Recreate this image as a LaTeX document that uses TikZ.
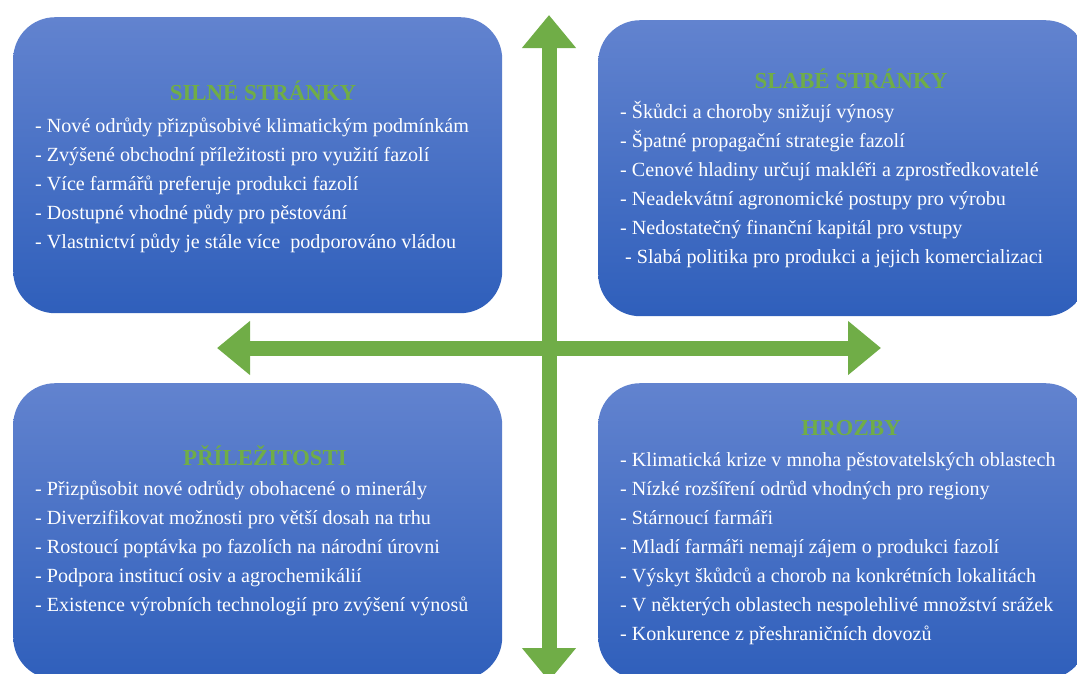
\documentclass[tikz,border=0pt]{standalone}
\usepackage{fontspec}
\setmainfont{Liberation Serif}
\usetikzlibrary{arrows.meta}
\definecolor{boxtop}{RGB}{98,131,207}
\definecolor{boxbot}{RGB}{47,95,187}
\definecolor{agreen}{RGB}{112,173,71}
\tikzset{
  quad/.style={draw=none, rounded corners=42pt, top color=boxtop, bottom color=boxbot,
    minimum width=489pt, minimum height=296pt, inner sep=0pt, anchor=north west},
  ttl/.style={text=agreen, font=\fontsize{22.9}{26}\selectfont\bfseries, anchor=base, inner sep=0pt},
  itm/.style={text=white, font=\fontsize{20.1}{24}\selectfont, anchor=base west, inner sep=0pt},
  dblarrow/.style={draw=agreen, line width=15pt,
    {Triangle[width=52pt,length=33pt]}-{Triangle[width=52pt,length=33pt]}}
}
\begin{document}
\begin{tikzpicture}[x=1pt,y=-1pt]
\useasboundingbox (0,0) rectangle (1077,673);
\clip (0,0) rectangle (1077,673);
% boxes
\node[quad] (S) at (13,17) {};
\node[quad] (W) at (598,20) {};
\node[quad] (O) at (13,383) {};
\node[quad] (T) at (598,383) {};
% arrows
\coordinate (top) at (549,15);
\coordinate (bot) at (549,681);
\coordinate (lft) at (217,348);
\coordinate (rgt) at (881,348);
\draw[dblarrow] (bot) -- (top);
\draw[dblarrow] (lft) -- (rgt);
% Strengths
\node[ttl] (S0) at (263,100) {SILNÉ STRÁNKY};
\node[itm] (S1) at (35,132) {- Nové odrůdy přizpůsobivé klimatickým podmínkám};
\node[itm] (S2) at (35,161) {- Zvýšené obchodní příležitosti pro využití fazolí};
\node[itm] (S3) at (35,190) {- Více farmářů preferuje produkci fazolí};
\node[itm] (S4) at (35,219) {- Dostupné vhodné půdy pro pěstování};
\node[itm] (S5) at (35,248) {- Vlastnictví půdy je stále více~ podporováno vládou};
% Weaknesses
\node[ttl] (W0) at (851,88) {SLABÉ STRÁNKY};
\node[itm] (W1) at (620,118) {- Škůdci a choroby snižují výnosy};
\node[itm] (W2) at (620,147) {- Špatné propagační strategie fazolí};
\node[itm] (W3) at (620,176) {- Cenové hladiny určují makléři a zprostředkovatelé};
\node[itm] (W4) at (620,205) {- Neadekvátní agronomické postupy pro výrobu};
\node[itm] (W5) at (620,234) {- Nedostatečný finanční kapitál pro vstupy};
\node[itm] (W6) at (625,263) {- Slabá politika pro produkci a jejich komercializaci};
% Opportunities
\node[ttl] (O0) at (265,465) {PŘÍLEŽITOSTI};
\node[itm] (O1) at (35,495) {- Přizpůsobit nové odrůdy obohacené o minerály};
\node[itm] (O2) at (35,524) {- Diverzifikovat možnosti pro větší dosah na trhu};
\node[itm] (O3) at (35,553) {- Rostoucí poptávka po fazolích na národní úrovni};
\node[itm] (O4) at (35,582) {- Podpora institucí osiv a agrochemikálií};
\node[itm] (O5) at (35,611) {- Existence výrobních technologií pro zvýšení výnosů};
% Threats
\node[ttl] (T0) at (851,435) {HROZBY};
\node[itm] (T1) at (620,466) {- Klimatická krize v mnoha pěstovatelských oblastech};
\node[itm] (T2) at (620,495) {- Nízké rozšíření odrůd vhodných pro regiony};
\node[itm] (T3) at (620,524) {- Stárnoucí farmáři};
\node[itm] (T4) at (620,553) {- Mladí farmáři nemají zájem o produkci fazolí};
\node[itm] (T5) at (620,582) {- Výskyt škůdců a chorob na konkrétních lokalitách};
\node[itm] (T6) at (620,611) {- V některých oblastech nespolehlivé množství srážek};
\node[itm] (T7) at (620,640) {- Konkurence z přeshraničních dovozů};
\end{tikzpicture}
\end{document}
